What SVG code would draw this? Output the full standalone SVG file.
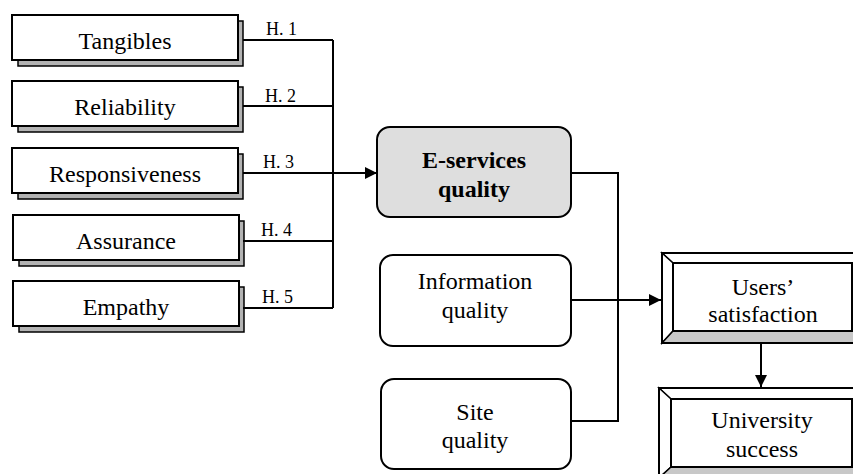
<svg xmlns="http://www.w3.org/2000/svg" width="853" height="474" viewBox="0 0 853 474">
<style>
text{font-family:"Liberation Serif","Times New Roman",serif}
.lbl{font-size:24px;fill:#000;text-anchor:middle}
.bold{font-weight:bold}
.hyp{font-size:18px;fill:#000}
.box{fill:#fff;stroke:#000;stroke-width:2}
.sh{fill:#b3b3b3;stroke:#000;stroke-width:1.5}
.rr{fill:#fff;stroke:#000;stroke-width:2}
.ln{fill:none;stroke:#000;stroke-width:2}
.bv{stroke:#000;stroke-width:1.5;stroke-linejoin:miter}
</style>
<defs>
<marker id="arr" viewBox="0 0 10 10" refX="10" refY="5" markerWidth="7" markerHeight="6" markerUnits="strokeWidth" orient="auto">
<path d="M0,0 L10,5 L0,10 Z" fill="#000"/>
</marker>
</defs>

<g id="tangibles" font-family="Liberation Serif, serif">
<rect class="sh" x="18" y="21" width="225" height="45"/>
<rect class="box" x="12" y="15" width="226" height="45"/>
<text class="lbl" x="125" y="49">Tangibles</text>
</g>
<g id="reliability" font-family="Liberation Serif, serif">
<rect class="sh" x="18" y="87" width="225" height="45"/>
<rect class="box" x="12" y="81" width="226" height="45"/>
<text class="lbl" x="125" y="115">Reliability</text>
</g>
<g id="responsiveness" font-family="Liberation Serif, serif">
<rect class="sh" x="18" y="154" width="225" height="45"/>
<rect class="box" x="12" y="148" width="226" height="45"/>
<text class="lbl" x="125" y="182">Responsiveness</text>
</g>
<g id="assurance" font-family="Liberation Serif, serif">
<rect class="sh" x="19" y="221" width="225" height="45"/>
<rect class="box" x="13" y="215" width="226" height="45"/>
<text class="lbl" x="126" y="249">Assurance</text>
</g>
<g id="empathy" font-family="Liberation Serif, serif">
<rect class="sh" x="19" y="287" width="225" height="45"/>
<rect class="box" x="13" y="281" width="226" height="45"/>
<text class="lbl" x="126" y="315">Empathy</text>
</g>

<g id="eservices" font-family="Liberation Serif, serif">
<rect x="377" y="127" width="194" height="90" rx="13" fill="#dedede" stroke="#000" stroke-width="2"/>
<text class="lbl bold" x="474" y="168">E-services</text>
<text class="lbl bold" x="474" y="197">quality</text>
</g>
<g id="information" font-family="Liberation Serif, serif">
<rect class="rr" x="380" y="255" width="191" height="91" rx="13"/>
<text class="lbl" x="475" y="289">Information</text>
<text class="lbl" x="475" y="318">quality</text>
</g>
<g id="site" font-family="Liberation Serif, serif">
<rect class="rr" x="381" y="379" width="190" height="90" rx="13"/>
<text class="lbl" x="475" y="420">Site</text>
<text class="lbl" x="475" y="448">quality</text>
</g>

<g id="satisfaction" font-family="Liberation Serif, serif">
<polygon class="bv" fill="#fff" points="662,253 866,253 856,263 673,263"/>
<polygon class="bv" fill="#fff" points="662,253 673,263 673,331 662,343"/>
<polygon class="bv" fill="#c8c8c8" points="662,343 673,331 856,331 866,343"/>
<rect x="673" y="263" width="179" height="68" fill="#fff" stroke="#000" stroke-width="2"/>
<rect x="662" y="253" width="204" height="90" fill="none" stroke="#000" stroke-width="2"/>
<text class="lbl" x="763" y="295">Users’</text>
<text class="lbl" x="763" y="322">satisfaction</text>
</g>
<g id="university" font-family="Liberation Serif, serif">
<polygon class="bv" fill="#fff" points="659,388 866,388 856,399 671,399"/>
<polygon class="bv" fill="#fff" points="659,388 671,399 671,467 659,478"/>
<polygon class="bv" fill="#c8c8c8" points="659,478 671,467 856,467 866,478"/>
<rect x="671" y="399" width="181" height="68" fill="#fff" stroke="#000" stroke-width="2"/>
<rect x="659" y="388" width="207" height="90" fill="none" stroke="#000" stroke-width="2"/>
<text class="lbl" x="762" y="428">University</text>
<text class="lbl" x="762" y="457">success</text>
</g>

<g id="connectors" font-family="Liberation Serif, serif">
<path class="ln" d="M243,40 H333 M243,106 H333 M243,241 H333 M243,308 H333 M333,40 V308"/>
<path class="ln" d="M243,173 H377" marker-end="url(#arr)"/>
<path class="ln" d="M571,173 H618 V421 H571"/>
<path class="ln" d="M571,300 H661" marker-end="url(#arr)"/>
<path class="ln" d="M761,343 V387" marker-end="url(#arr)"/>
<text class="hyp" x="266" y="35">H. 1</text>
<text class="hyp" x="265" y="102">H. 2</text>
<text class="hyp" x="263" y="168">H. 3</text>
<text class="hyp" x="261" y="236">H. 4</text>
<text class="hyp" x="262" y="303">H. 5</text>
</g>
</svg>
